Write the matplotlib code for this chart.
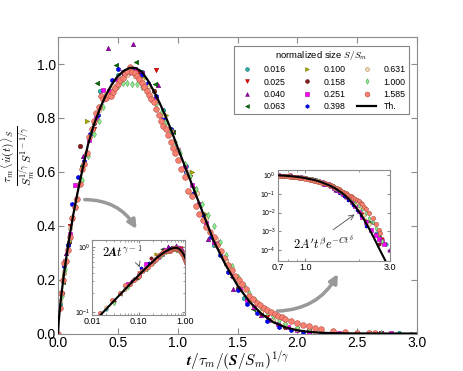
import matplotlib as mpl
mpl.use('Agg')
from matplotlib import pyplot as plt
from matplotlib import ticker

plt.rcParams['font.family'] = ['Liberation Sans', 'DejaVu Sans']
plt.rcParams['mathtext.fontset'] = 'cm'

# theory curve
th_t = [0.0, 0.005, 0.01, 0.02, 0.03, 0.05, 0.07, 0.1, 0.13, 0.16, 0.2, 0.25, 0.3, 0.35, 0.4,
        0.45, 0.5, 0.55, 0.6, 0.65, 0.7, 0.75, 0.8, 0.85, 0.9, 0.95, 1.0, 1.1, 1.2, 1.3, 1.4,
        1.5, 1.6, 1.7, 1.8, 1.9, 2.0, 2.1, 2.2, 2.3, 2.4, 2.5, 2.6, 2.7, 2.8, 2.9, 3.0]
th_y = [0.0, 0.039, 0.066, 0.111, 0.151, 0.221, 0.285, 0.37, 0.447, 0.516, 0.60, 0.70, 0.775,
        0.835, 0.885, 0.925, 0.955, 0.975, 0.986, 0.985, 0.972, 0.94, 0.90, 0.855, 0.805, 0.75,
        0.69, 0.575, 0.46, 0.345, 0.255, 0.178, 0.118, 0.073, 0.042, 0.023, 0.012, 0.006,
        0.0028, 0.0013, 0.0006, 0.00028, 0.00013, 6.5e-5, 3.3e-5, 1.7e-5, 9e-6]

sizes = ['0.016', '0.025', '0.040', '0.063', '0.100', '0.158',
         '0.251', '0.398', '0.631', '1.000', '1.585']

# S/Sm = 0.016
t_016 = [0.02, 0.08, 0.2, 0.35, 0.5, 0.7, 0.88, 1.07, 1.3, 1.55, 1.8, 2.1, 2.5, 2.85]
y_016 = [0.11, 0.33, 0.62, 0.9, 0.96, 0.97, 0.83, 0.62, 0.33, 0.13, 0.05, 0.007, 0.0008, 0.0002]
# 0.025
t_025 = [0.1, 0.3, 0.55, 0.82, 1.1, 1.4, 1.75, 2.1, 2.7]
y_025 = [0.4, 0.76, 0.96, 0.978, 0.58, 0.26, 0.06, 0.008, 0.0004]
# 0.040
t_040 = [0.07, 0.21, 0.42, 0.629, 0.838, 1.05, 1.256, 1.465, 1.7, 2.0, 2.4, 2.95]
y_040 = [0.3, 0.66, 1.06, 1.074, 0.923, 0.62, 0.349, 0.164, 0.07, 0.015, 0.003, 0.0001]
# 0.063
t_063 = [0.04, 0.12, 0.2, 0.323, 0.485, 0.652, 0.81, 0.963, 1.13, 1.3, 1.45, 1.63, 1.8, 2.0, 2.3, 2.6]
y_063 = [0.19, 0.43, 0.62, 0.93, 0.997, 1.006, 0.926, 0.747, 0.52, 0.34, 0.21, 0.09, 0.045,
         0.015, 0.003, 0.0006]
# 0.100
t_100 = [0.05, 0.12, 0.24, 0.4, 0.58, 0.72, 0.9, 1.117, 1.24, 1.4, 1.6, 1.85, 2.2]
y_100 = [0.22, 0.43, 0.79, 0.88, 0.97, 0.95, 0.81, 0.6, 0.445, 0.26, 0.12, 0.035, 0.004]
# 0.158
t_158 = [0.03, 0.09, 0.184, 0.3, 0.42, 0.55, 0.68, 0.8, 0.95, 1.145, 1.3, 1.5, 1.7, 1.9, 2.2, 2.6]
y_158 = [0.15, 0.34, 0.695, 0.78, 0.88, 0.96, 0.97, 0.9, 0.75, 0.537, 0.35, 0.17, 0.075, 0.025,
         0.003, 0.0002]
# 0.251
t_251 = [0.06, 0.1, 0.142, 0.2, 0.26, 0.32, 0.376, 0.43, 0.49, 0.54, 0.587, 0.64, 0.7, 0.76,
         0.82, 0.88, 0.94, 1.0, 1.06, 1.12, 1.18, 1.24, 1.3, 1.337, 1.4, 1.46, 1.52, 1.58, 1.64,
         1.69, 1.76, 1.84, 1.92, 2.0, 2.1, 2.2, 2.35, 2.5, 2.6, 2.7, 2.78]
y_251 = [0.27, 0.37, 0.55, 0.61, 0.72, 0.8, 0.905, 0.9, 0.945, 0.97, 0.966, 0.98, 0.965, 0.92,
         0.87, 0.81, 0.75, 0.68, 0.62, 0.55, 0.48, 0.41, 0.34, 0.338, 0.27, 0.215, 0.165, 0.125,
         0.1, 0.08, 0.05, 0.035, 0.023, 0.012, 0.006, 0.003, 0.0012, 0.0006, 0.0004, 0.0003, 0.0002]
# 0.398
t_398 = [0.05, 0.08, 0.114, 0.17, 0.22, 0.27, 0.33, 0.39, 0.45, 0.5, 0.56, 0.62, 0.69, 0.75,
         0.82, 0.88, 0.94, 1.0, 1.07, 1.14, 1.21, 1.28, 1.35, 1.42, 1.5, 1.58, 1.66, 1.75, 1.85,
         1.95, 2.05, 2.2]
y_398 = [0.25, 0.33, 0.48, 0.58, 0.64, 0.74, 0.81, 0.87, 0.94, 0.98, 0.975, 0.985, 0.96, 0.93,
         0.88, 0.8, 0.76, 0.68, 0.6, 0.52, 0.44, 0.36, 0.29, 0.23, 0.16, 0.11, 0.075, 0.045,
         0.026, 0.014, 0.007, 0.002]
# 0.631
t_631 = [0.02, 0.05, 0.1, 0.15, 0.22, 0.28, 0.34, 0.4, 0.46, 0.52, 0.58, 0.64, 0.7, 0.76, 0.82,
         0.88, 0.94, 1.0, 1.08, 1.16, 1.24, 1.32, 1.4, 1.5, 1.6, 1.7, 1.8, 1.9, 2.0, 2.15, 2.3]
y_631 = [0.12, 0.23, 0.39, 0.5, 0.63, 0.75, 0.83, 0.89, 0.92, 0.95, 0.96, 0.955, 0.94, 0.92,
         0.86, 0.81, 0.75, 0.68, 0.6, 0.52, 0.43, 0.35, 0.27, 0.19, 0.13, 0.085, 0.05, 0.03,
         0.017, 0.007, 0.0025]
# 1.000
t_1000 = [0.03, 0.06, 0.1, 0.15, 0.2, 0.25, 0.3, 0.34, 0.38, 0.42, 0.46, 0.5, 0.54, 0.58, 0.62,
          0.66, 0.7, 0.74, 0.78, 0.82, 0.86, 0.9, 0.94, 0.98, 1.02, 1.06, 1.1, 1.15, 1.2, 1.25,
          1.3, 1.35, 1.4, 1.45, 1.5, 1.55, 1.6, 1.65, 1.7, 1.75, 1.8, 1.85, 1.9, 2.0, 2.1, 2.2,
          2.3, 2.4, 2.5, 2.6, 2.7]
y_1000 = [0.14, 0.24, 0.35, 0.47, 0.57, 0.66, 0.74, 0.79, 0.84, 0.88, 0.905, 0.92, 0.93, 0.93,
          0.925, 0.925, 0.915, 0.9, 0.875, 0.85, 0.82, 0.785, 0.75, 0.71, 0.67, 0.63, 0.585,
          0.535, 0.48, 0.44, 0.4, 0.34, 0.29, 0.25, 0.21, 0.18, 0.15, 0.125, 0.1, 0.08, 0.064,
          0.05, 0.04, 0.025, 0.015, 0.009, 0.005, 0.003, 0.0015, 0.0007, 0.0003]
# 1.585
t_1585 = [0.0, 0.015, 0.027, 0.04, 0.051, 0.065, 0.08, 0.1, 0.12, 0.14, 0.16, 0.18, 0.2, 0.22,
          0.24, 0.26, 0.28, 0.3, 0.32, 0.34, 0.36, 0.38, 0.4, 0.42, 0.44, 0.46, 0.48, 0.5, 0.52,
          0.54, 0.56, 0.58, 0.6, 0.62, 0.64, 0.66, 0.68, 0.7, 0.72, 0.74, 0.76, 0.78, 0.8, 0.82,
          0.84, 0.86, 0.88, 0.9, 0.92, 0.94, 0.96, 0.98, 1.0, 1.03, 1.06, 1.09, 1.12, 1.15, 1.18,
          1.21, 1.24, 1.27, 1.3, 1.33, 1.36, 1.39, 1.42, 1.45, 1.48, 1.51, 1.54, 1.57, 1.6, 1.63,
          1.66, 1.69, 1.72, 1.75, 1.78, 1.81, 1.84, 1.87, 1.9, 1.95, 2.0, 2.05, 2.1, 2.15, 2.2,
          2.3, 2.4, 2.5, 2.6, 2.65]
y_1585 = [0.0, 0.095, 0.152, 0.2, 0.26, 0.27, 0.31, 0.36, 0.43, 0.47, 0.5, 0.555, 0.61, 0.63,
          0.67, 0.73, 0.76, 0.79, 0.82, 0.84, 0.88, 0.87, 0.875, 0.885, 0.88, 0.895, 0.91, 0.925,
          0.94, 0.95, 0.965, 0.975, 0.99, 0.97, 0.965, 0.955, 0.945, 0.93, 0.915, 0.9, 0.885,
          0.87, 0.86, 0.835, 0.81, 0.79, 0.77, 0.76, 0.735, 0.71, 0.69, 0.67, 0.645, 0.61, 0.58,
          0.53, 0.51, 0.475, 0.445, 0.42, 0.395, 0.375, 0.36, 0.33, 0.305, 0.28, 0.255, 0.235,
          0.215, 0.2, 0.185, 0.165, 0.14, 0.127, 0.115, 0.105, 0.096, 0.088, 0.08, 0.073, 0.066,
          0.06, 0.055, 0.047, 0.04, 0.033, 0.027, 0.021, 0.016, 0.009, 0.005, 0.0025, 0.0012,
          0.0008]

series_t = [t_016, t_025, t_040, t_063, t_100, t_158, t_251, t_398, t_631, t_1000, t_1585]
series_y = [y_016, y_025, y_040, y_063, y_100, y_158, y_251, y_398, y_631, y_1000, y_1585]
markers = ['o', 'v', '^', '<', '>', 'o', 's', 'h', 'o', 'd', 'o']
colors = ['#2bb0b0', '#ff0000', '#a000b0', '#007000', '#b0b000', '#8b1a1a',
          '#ff00ff', '#0000ff', '#f5d9ae', '#90ee90', '#fa8072']
msizes = [3.2, 3.2, 3.2, 3.2, 3.2, 3.2, 3.2, 3.2, 3.4, 3.2, 4.1]
edges = ['#1a7070', '#900000', '#600070', '#004000', '#707000', '#501010',
         '#a000a0', '#0000a0', '#b09070', '#50a050', '#b05040']

SPINE = '0.55'


def style_axes(a, size):
    for s in a.spines.values():
        s.set_color(SPINE)
    a.tick_params(which='both', direction='in', top=True, right=True, color=SPINE,
                  labelsize=size)


def draw_data(a, scale, lw):
    for t, y, m, c, ms, ec, lab in zip(series_t, series_y, markers, colors, msizes, edges, sizes):
        a.plot(t, y, ls='none', marker=m, color=c, mec=ec, mew=0.4, ms=ms * scale, label=lab)
    a.plot(th_t, th_y, color='k', lw=lw, zorder=5, label='Th.')


fig = plt.figure(figsize=(4.63, 3.71), dpi=100)
ax = fig.add_axes([0.1253, 0.101, 0.7754, 0.799])
draw_data(ax, 1.0, 1.6)
ax.set_xlim(0, 3.0)
ax.set_ylim(0, 1.1)
ax.set_xticks([0.0, 0.5, 1.0, 1.5, 2.0, 2.5, 3.0])
ax.set_yticks([0.0, 0.2, 0.4, 0.6, 0.8, 1.0])
ax.xaxis.set_major_formatter(ticker.FormatStrFormatter('%.1f'))
ax.yaxis.set_major_formatter(ticker.FormatStrFormatter('%.1f'))
style_axes(ax, 10)
ax.tick_params(length=4, pad=1.5)
ax.set_xlabel(r'$\boldsymbol{t/\tau_m/(S/S_m)^{1/\gamma}}$', fontsize=11, labelpad=0)
ax.set_ylabel(r'$\frac{\tau_m\,\langle\dot{u}(t)\rangle_S}{S_m^{1/\gamma}\,S^{1-1/\gamma}}$',
              fontsize=12)
ax.yaxis.set_label_coords(-0.058, 0.6)

leg = ax.legend(ncol=3, loc='upper right', bbox_to_anchor=(0.99, 0.985), fontsize=6.3,
                title=r'normalized size $S/S_m$', title_fontsize=6.8, numpoints=1,
                fancybox=False, edgecolor='0.4', handlelength=2.2, columnspacing=1.3,
                labelspacing=0.35, borderpad=0.4, handletextpad=0.8, markerscale=0.85)
leg.get_frame().set_linewidth(0.8)

# curved grey arrows pointing to the insets
ax.annotate('', xy=(0.668, 0.379), xytext=(0.2, 0.497),
            arrowprops=dict(arrowstyle='-|>,head_length=0.5,head_width=0.25',
                            connectionstyle='arc3,rad=-0.3', color='0.6', lw=2.5))
ax.annotate('', xy=(2.35, 0.23), xytext=(1.81, 0.083),
            arrowprops=dict(arrowstyle='-|>,head_length=0.5,head_width=0.25',
                            connectionstyle='arc3,rad=0.3', color='0.6', lw=2.5))

# inset 1: small t, log-log
ax1 = fig.add_axes([0.199, 0.151, 0.201, 0.202])
draw_data(ax1, 0.75, 1.5)
ax1.set_xscale('log')
ax1.set_yscale('log')
ax1.set_xlim(0.01, 1.0)
ax1.set_ylim(0.09, 1.3)
ax1.xaxis.set_major_locator(ticker.FixedLocator([0.01, 0.1, 1.0]))
ax1.xaxis.set_major_formatter(ticker.FormatStrFormatter('%.2f'))
ax1.xaxis.set_minor_formatter(ticker.NullFormatter())
ax1.yaxis.set_minor_formatter(ticker.NullFormatter())
style_axes(ax1, 6.5)
ax1.tick_params(axis='y', labelsize=5)
ax1.tick_params(which='major', length=2.5, pad=1.5)
ax1.tick_params(which='minor', length=1.5)
ax1.annotate(r'$\boldsymbol{2At^{\gamma-1}}$', xy=(0.52, 0.6), xycoords='axes fraction',
             xytext=(0.11, 0.74), textcoords='axes fraction', fontsize=9,
             ha='left', va='bottom',
             arrowprops=dict(arrowstyle='->', color='0.3', lw=0.6, relpos=(0.85, 0.0)))

# inset 2: large t, log-log
ax2 = fig.add_axes([0.600, 0.2965, 0.242, 0.245])
draw_data(ax2, 0.75, 1.5)
ax2.set_xscale('log')
ax2.set_yscale('log')
ax2.set_xlim(0.7, 3.0)
ax2.set_ylim(2.6e-5, 1.85)
ax2.xaxis.set_major_locator(ticker.FixedLocator([0.7, 1.0, 3.0]))
ax2.xaxis.set_major_formatter(ticker.FormatStrFormatter('%.1f'))
ax2.xaxis.set_minor_formatter(ticker.NullFormatter())
ax2.yaxis.set_major_locator(ticker.LogLocator(numticks=10))
ax2.yaxis.set_minor_locator(ticker.NullLocator())
style_axes(ax2, 6.5)
ax2.tick_params(axis='y', labelsize=5)
ax2.tick_params(which='major', length=2.5, pad=1.5)
ax2.tick_params(which='minor', length=1.5)
ax2.annotate(r"$\boldsymbol{2A' t^{\beta} e^{-Ct^{\delta}}}$", xy=(0.705, 0.53),
             xycoords='axes fraction', xytext=(0.14, 0.1), textcoords='axes fraction',
             fontsize=9, ha='left', va='bottom',
             arrowprops=dict(arrowstyle='->', color='0.3', lw=0.6, relpos=(0.55, 1.0)))

fig.savefig('out.png', dpi=100)
